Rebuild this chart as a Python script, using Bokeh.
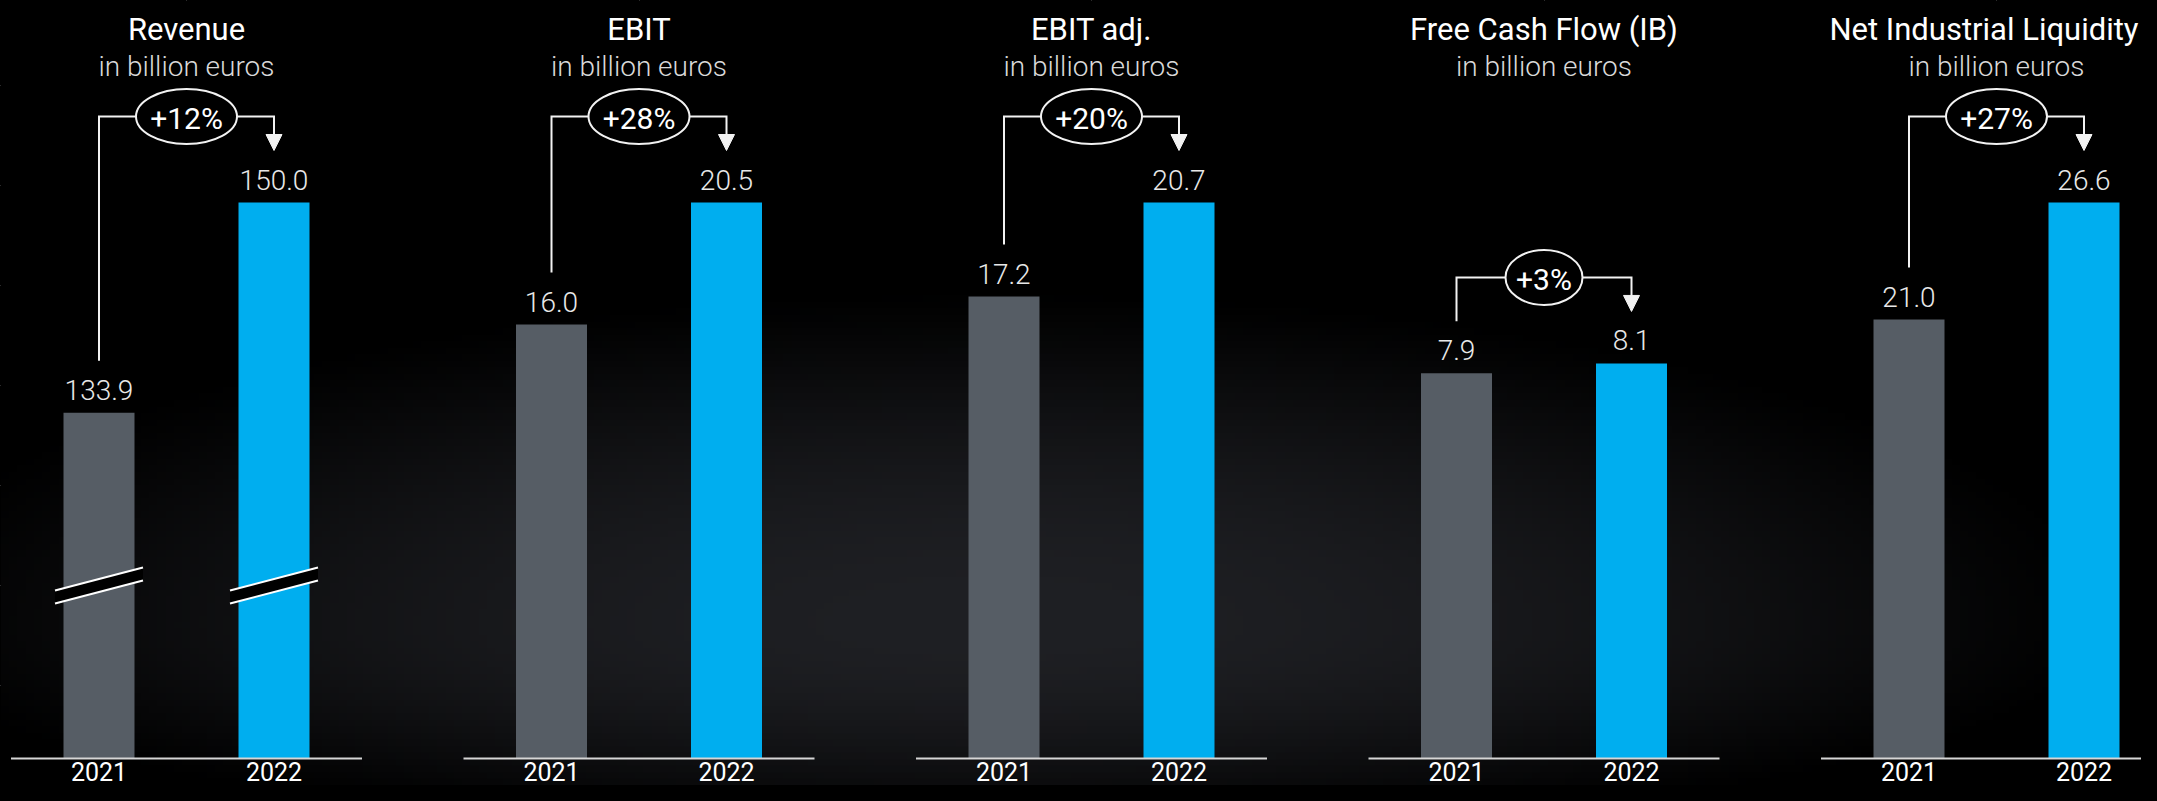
import numpy as np
from bokeh.plotting import figure
from bokeh.models import Range1d, Arrow, NormalHead, GlobalInlineStyleSheet
from bokeh.core.properties import value
from bokeh.embed import file_html
from bokeh.resources import INLINE

# ---------------- data ----------------
titles = ["Revenue", "EBIT", "EBIT adj.", "Free Cash Flow (IB)", "Net Industrial Liquidity"]
subtitle = "in billion euros"
years = ["2021", "2022"]
values_2021 = [133.9, 16.0, 17.2, 7.9, 21.0]
values_2022 = [150.0, 20.5, 20.7, 8.1, 26.6]
changes = ["+12%", "+28%", "+20%", "+3%", "+27%"]
# per-panel value axis: value at the baseline and value at the top of the bar zone
axis_min = [107.4, 0.0, 0.0, 0.0, 0.0]
axis_max = [150.0, 20.5, 20.7, 11.4, 26.6]

# ---------------- layout / style ----------------
W, H = 2141, 785
PITCH = 452.5          # px per panel
C0 = 186.0             # px of first panel centre
BASE = H - 758.0       # px of baseline above figure bottom
ZONE = 556.0           # px between baseline and top of bar zone
GREY = "#565d65"
BLUE = "#00aeef"
WHITE = "#ffffff"
LINE = "#f2f2f2"
FONT = value("Roboto")
LIGHT = value("Roboto Light")


def yoff(px, size):
    # screen offset of an alphabetic baseline, corrected for the text box metrics
    return px - round(0.27 * size)


p = figure(width=W, height=H, output_backend="svg", toolbar_location=None,
           x_range=Range1d(-C0 / PITCH, (W - C0) / PITCH), y_range=Range1d(0, H),
           x_axis_location=None, y_axis_location=None, min_border=0,
           outline_line_color=None, background_fill_color="#000000",
           border_fill_color="#000000")
p.stylesheets = [GlobalInlineStyleSheet(css="html, body { background: #000000; }")]

# background glow
rows, cols = 120, 260
img = np.zeros((rows, cols), dtype=np.uint32)
view = img.view(dtype=np.uint8).reshape((rows, cols, 4))
px_x = (np.arange(cols) + 0.5) * W / cols
px_y = H - (np.arange(rows) + 0.5) * H / rows
X, Y = np.meshgrid(px_x, px_y)
cx, cy = 990.0, 625.0
ry = np.where(Y < cy, 340.0, 220.0)
d2 = ((X - cx) / 1150.0) ** 2 + ((Y - cy) / ry) ** 2
I = np.clip(1 - d2, 0, 1) ** 1.3
view[:, :, 0] = (31 * I).astype(np.uint8)
view[:, :, 1] = (32 * I).astype(np.uint8)
view[:, :, 2] = (36 * I).astype(np.uint8)
view[:, :, 3] = 255
p.image_rgba(image=[img], x=-C0 / PITCH, y=0, dw=W / PITCH, dh=H)

ranges = {}
for i in range(len(titles)):
    k = (axis_max[i] - axis_min[i]) / ZONE
    ranges[f"p{i}"] = Range1d(axis_min[i] - BASE * k, axis_min[i] + (H - BASE) * k)
p.extra_y_ranges = ranges

dx = 87.5 / PITCH
bw = 71.0 / PITCH

for i in range(len(titles)):
    name = f"p{i}"
    k = (axis_max[i] - axis_min[i]) / ZONE
    lo = axis_min[i]

    def yv(px):
        return lo + px * k

    c = float(i)
    xs = [c - dx, c + dx]
    tops = [values_2021[i], values_2022[i]]

    # titles (the last one is kept inside the right edge)
    tx, talign = c, "center"
    if i == len(titles) - 1:
        tx, talign = (W - 3 - C0) / PITCH, "right"
    p.text(x=[tx], y=[H - 37], text=[titles[i]], y_offset=yoff(0, 31), text_font=FONT,
           text_font_size="31px", text_color=WHITE, text_align=talign,
           text_baseline="alphabetic")
    p.text(x=[c], y=[H - 74], text=[subtitle], y_offset=yoff(0, 28), text_font=LIGHT,
           text_font_size="28px", text_color="#d9d9d9", text_align="center",
           text_baseline="alphabetic")

    # bars
    p.vbar(x=xs, top=tops, bottom=lo, width=bw, fill_color=[GREY, BLUE],
           line_color=None, y_range_name=name)

    # baseline
    p.segment(x0=[c - 175.5 / PITCH], x1=[c + 175.5 / PITCH], y0=[lo], y1=[lo],
              line_color="#d6d6d6", line_width=2, y_range_name=name)

    # axis break marks
    if lo > 0:
        bxs, bys, l1x, l1y = [], [], [], []
        for xc in xs:
            xl, xr = xc - 44 / PITCH, xc + 44 / PITCH
            bxs.append([xl, xr, xr, xl])
            bys.append([yv(168), yv(191), yv(178), yv(155)])
            l1x += [[xl, xr], [xl, xr]]
            l1y += [[yv(168), yv(191)], [yv(155), yv(178)]]
        p.patches(xs=bxs, ys=bys, fill_color="#000000", line_color=None, y_range_name=name)
        p.multi_line(xs=l1x, ys=l1y, line_color=WHITE, line_width=2, y_range_name=name)

    # value labels
    p.text(x=xs, y=tops, text=[f"{v:.1f}" for v in tops], y_offset=yoff(-15, 28),
           text_font=LIGHT, text_font_size="28px", text_color="#e8e8e8",
           text_align="center", text_baseline="alphabetic", y_range_name=name)

    # year labels
    p.text(x=xs, y=[lo, lo], text=years, y_offset=yoff(19.5, 25), text_font=FONT,
           text_font_size="25px", text_color=WHITE, text_align="center",
           text_baseline="alphabetic", y_range_name=name)

    # change bracket
    t21 = (values_2021[i] - lo) / k
    t22 = (values_2022[i] - lo) / k
    level = max(t21, t22) + 86
    left_bottom = t21 + 52
    tip = t22 + 52
    ew_px = 24 * len(changes[i]) + 5
    ew = ew_px / 2 / PITCH
    p.multi_line(xs=[[c - dx, c - dx, c - ew], [c + ew, c + dx, c + dx]],
                 ys=[[yv(left_bottom), yv(level), yv(level)],
                     [yv(level), yv(level), yv(tip + 8)]],
                 line_color=LINE, line_width=2, line_join="miter", y_range_name=name)
    p.add_layout(Arrow(x_start=c + dx, y_start=yv(tip + 16), x_end=c + dx, y_end=yv(tip),
                       line_color=LINE, line_width=2,
                       end=NormalHead(size=16, fill_color=LINE, line_color=LINE, line_width=1),
                       y_range_name=name))
    p.ellipse(x=[c], y=[yv(level)], width=ew_px, height=55, width_units="screen",
              height_units="screen", fill_color=None, line_color=LINE, line_width=2,
              y_range_name=name)
    p.text(x=[c], y=[yv(level)], text=[changes[i]], y_offset=yoff(10, 30), text_font=FONT,
           text_font_size="30px", text_color=WHITE, text_align="center",
           text_baseline="alphabetic", y_range_name=name)

open("out.html", "w").write(file_html(p, INLINE))
